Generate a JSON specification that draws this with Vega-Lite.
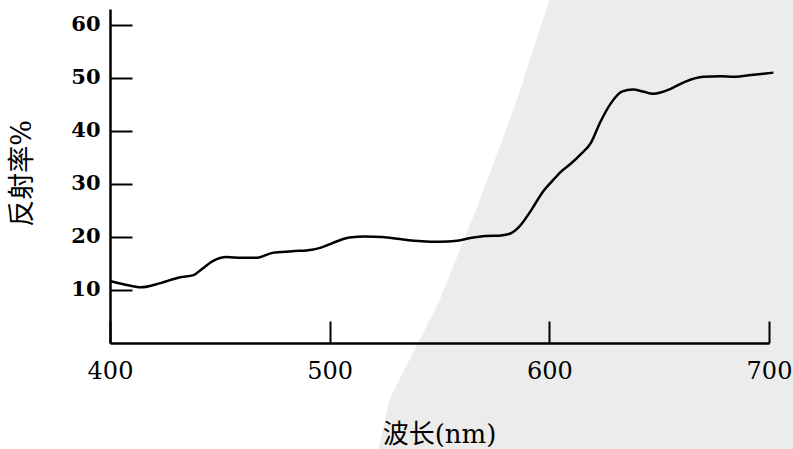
{
  "$schema": "https://vega.github.io/schema/vega-lite/v6.json",
  "width": 659,
  "height": 334,
  "autosize": {"type": "none"},
  "padding": {"left": 110, "top": 9, "right": 24, "bottom": 106},
  "background": "white",
  "config": {"view": {"stroke": null}},
  "datasets": {
    "shade": [
      {"r": 66, "w0": 601, "w1": 713},
      {"r": 45.9, "w0": 585.3, "w1": 713},
      {"r": 27.0, "w0": 568.4, "w1": 713},
      {"r": 8.2, "w0": 550.2, "w1": 713},
      {"r": -10.5, "w0": 527.4, "w1": 713},
      {"r": -21, "w0": 521.5, "w1": 713}
    ],
    "spectrum": [
      {"wavelength": 400, "reflectance": 11.7},
      {"wavelength": 407, "reflectance": 11.0},
      {"wavelength": 414, "reflectance": 10.5},
      {"wavelength": 423, "reflectance": 11.3},
      {"wavelength": 432, "reflectance": 12.4},
      {"wavelength": 438, "reflectance": 12.8},
      {"wavelength": 442, "reflectance": 14.0},
      {"wavelength": 447, "reflectance": 15.5},
      {"wavelength": 453, "reflectance": 16.2},
      {"wavelength": 460, "reflectance": 16.1},
      {"wavelength": 467, "reflectance": 16.1},
      {"wavelength": 474, "reflectance": 17.0},
      {"wavelength": 483, "reflectance": 17.3},
      {"wavelength": 492, "reflectance": 17.6},
      {"wavelength": 496, "reflectance": 18.0},
      {"wavelength": 501, "reflectance": 18.8},
      {"wavelength": 509, "reflectance": 19.9},
      {"wavelength": 516, "reflectance": 20.1},
      {"wavelength": 524, "reflectance": 20.0},
      {"wavelength": 532, "reflectance": 19.6},
      {"wavelength": 542, "reflectance": 19.2},
      {"wavelength": 550, "reflectance": 19.1},
      {"wavelength": 558, "reflectance": 19.3},
      {"wavelength": 564, "reflectance": 19.8},
      {"wavelength": 571, "reflectance": 20.2},
      {"wavelength": 578, "reflectance": 20.3},
      {"wavelength": 582, "reflectance": 20.6},
      {"wavelength": 586, "reflectance": 21.8},
      {"wavelength": 592, "reflectance": 25.2},
      {"wavelength": 597, "reflectance": 28.5},
      {"wavelength": 601, "reflectance": 30.4},
      {"wavelength": 605, "reflectance": 32.2},
      {"wavelength": 610, "reflectance": 33.9},
      {"wavelength": 614, "reflectance": 35.5},
      {"wavelength": 619, "reflectance": 37.8},
      {"wavelength": 623, "reflectance": 41.5},
      {"wavelength": 628, "reflectance": 45.2},
      {"wavelength": 633, "reflectance": 47.4},
      {"wavelength": 638, "reflectance": 47.8},
      {"wavelength": 643, "reflectance": 47.4},
      {"wavelength": 647, "reflectance": 47.0},
      {"wavelength": 651, "reflectance": 47.3},
      {"wavelength": 655, "reflectance": 47.9},
      {"wavelength": 662, "reflectance": 49.3},
      {"wavelength": 670, "reflectance": 50.2},
      {"wavelength": 678, "reflectance": 50.3},
      {"wavelength": 684, "reflectance": 50.2},
      {"wavelength": 693, "reflectance": 50.6},
      {"wavelength": 702, "reflectance": 51.0}
    ]
  },
  "layer": [
    {
      "data": {"name": "shade"},
      "mark": {"type": "area", "orient": "horizontal", "color": "#ececec", "clip": false},
      "encoding": {
        "y": {"field": "r", "type": "quantitative", "title": "反射率%", "scale": {"domain": [0, 63], "nice": false, "zero": false}},
        "x": {"field": "w0", "type": "quantitative", "title": "波长(nm)", "scale": {"domain": [400, 700], "nice": false, "zero": false}},
        "x2": {"field": "w1"}
      }
    },
    {
      "data": {"name": "spectrum"},
      "mark": {"type": "line", "color": "black", "strokeWidth": 2.5, "interpolate": "monotone", "clip": false},
      "encoding": {
        "x": {
          "field": "wavelength",
          "type": "quantitative",
          "title": "波长(nm)",
          "scale": {"domain": [400, 700], "nice": false, "zero": false},
          "axis": {
            "zindex": 1,
            "values": [400, 500, 600, 700],
            "grid": false,
            "domainColor": "black",
            "domainWidth": 2.5,
            "tickColor": "black",
            "tickWidth": 2,
            "tickSize": -22,
            "labelPadding": 38,
            "labelFont": "DejaVu Serif",
            "labelFontSize": 24,
            "labelColor": "black",
            "labelFlush": false,
            "titleFont": "'DejaVu Serif', 'Noto Sans CJK SC'",
            "titleFontSize": 26,
            "titleFontWeight": "normal",
            "titleColor": "black",
            "titleBaseline": "middle",
            "titleAlign": "center",
            "titleX": 329,
            "titleY": 91
          }
        },
        "y": {
          "field": "reflectance",
          "type": "quantitative",
          "title": "反射率%",
          "scale": {"domain": [0, 63], "nice": false, "zero": false},
          "axis": {
            "zindex": 1,
            "values": [10, 20, 30, 40, 50, 60],
            "grid": false,
            "domainColor": "black",
            "domainWidth": 2.5,
            "tickColor": "black",
            "tickWidth": 2,
            "tickSize": -22,
            "labelPadding": 32,
            "labelFont": "DejaVu Serif",
            "labelFontWeight": "bold",
            "labelFontSize": 21,
            "labelColor": "black",
            "labelFlush": false,
            "titleFont": "'DejaVu Serif', 'Noto Sans CJK SC'",
            "titleFontSize": 27,
            "titleFontWeight": "normal",
            "titleColor": "black",
            "titleAngle": -90,
            "titleBaseline": "middle",
            "titleAlign": "center",
            "titleX": -88,
            "titleY": 164
          }
        }
      }
    }
  ]
}
